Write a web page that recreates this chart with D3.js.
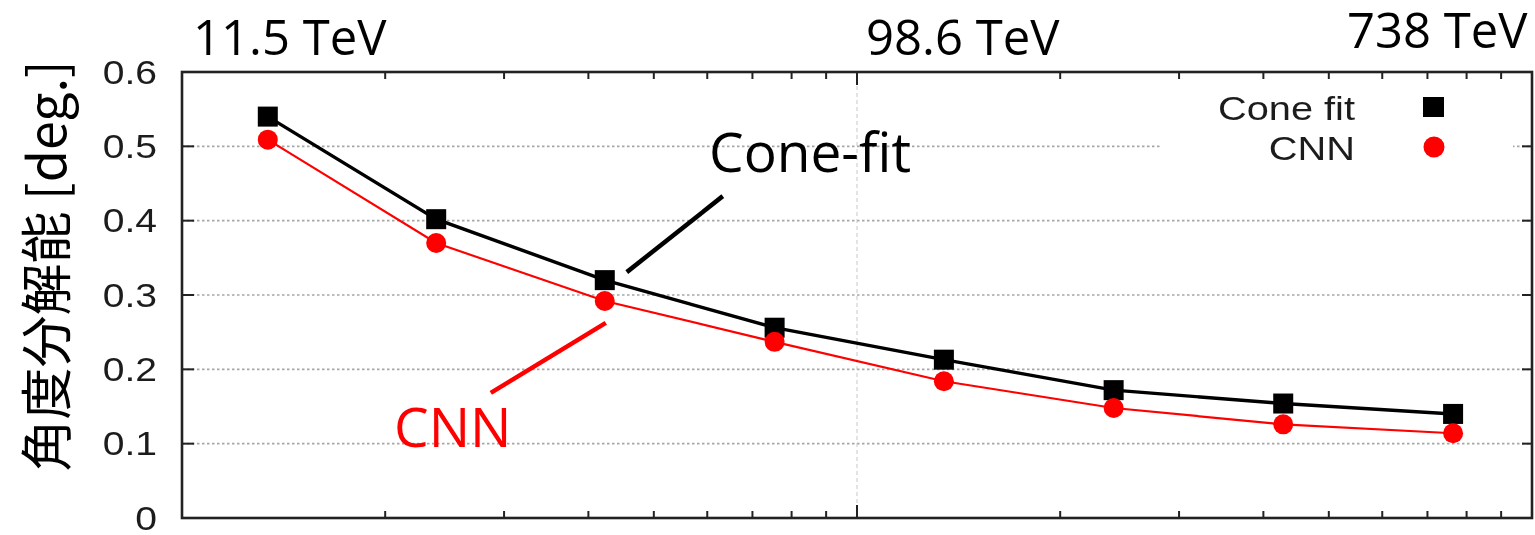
<!DOCTYPE html>
<html><head><meta charset="utf-8">
<script src="https://cdn.jsdelivr.net/npm/d3@7"></script>
<style>
html,body{margin:0;padding:0;background:#fff;}
svg{display:block;}
</style></head>
<body>
<svg id="chart" width="1535" height="535"></svg>
<script>
// Energy bin centres (TeV) and angular resolution (deg.) for each method
const energyTeV = [13.4, 23.8, 42.3, 75.5, 134.5, 240, 428, 764];
const coneFit   = [0.540, 0.402, 0.320, 0.256, 0.213, 0.172, 0.154, 0.140];
const cnn       = [0.509, 0.370, 0.292, 0.237, 0.184, 0.148, 0.126, 0.114];

const yTicks      = [0, 0.1, 0.2, 0.3, 0.4, 0.5, 0.6];
const yTickLabels = ["0", "0.1", "0.2", "0.3", "0.4", "0.5", "0.6"];
const yGrid       = [0.1, 0.2, 0.3, 0.4, 0.5];
const xDomain     = [10, 1000];
const energyLabels = ["11.5 TeV", "98.6 TeV", "738 TeV"];
const seriesNames  = ["Cone fit", "CNN"];
const calloutNames = ["Cone-fit", "CNN"];
const yTitle = "角度分解能 [deg.]";

const svg = d3.select("#chart");
const L = 182, R = 1532, T = 72, B = 518;

const x = d3.scaleLog().domain(xDomain).range([L, R]);
const y = d3.scaleLinear().domain([0, 0.6]).range([B, T]);

// soft look of the plotted panel
const defs = svg.append("defs");
defs.append("filter").attr("id", "soft")
  .append("feGaussianBlur").attr("stdDeviation", 0.5);

const plot = svg.append("g").attr("filter", "url(#soft)");

// grid
plot.append("g").selectAll("line").data(yGrid).join("line")
  .attr("x1", L).attr("x2", R)
  .attr("y1", d => y(d)).attr("y2", d => y(d))
  .attr("stroke", "#a6a6a6").attr("stroke-width", 1.6)
  .attr("stroke-dasharray", "2.5,2.5");
const majors = x.ticks().filter(v => Number.isInteger(Math.log10(v)));
plot.append("g").selectAll("line").data(majors.filter(v => v > xDomain[0] && v < xDomain[1])).join("line")
  .attr("x1", d => x(d)).attr("x2", d => x(d))
  .attr("y1", T).attr("y2", B)
  .attr("stroke", "#c8c8c8").attr("stroke-width", 1)
  .attr("stroke-dasharray", "4,3");

// x ticks (bottom and top, pointing inward)
const xt = x.ticks();
const tickLen = v => Number.isInteger(Math.log10(v)) ? 13 : 7;
plot.append("g").selectAll("line").data(xt).join("line")
  .attr("x1", d => x(d)).attr("x2", d => x(d))
  .attr("y1", B).attr("y2", d => B - tickLen(d))
  .attr("stroke", "#222").attr("stroke-width", 2);
plot.append("g").selectAll("line").data(xt).join("line")
  .attr("x1", d => x(d)).attr("x2", d => x(d))
  .attr("y1", T).attr("y2", d => T + tickLen(d))
  .attr("stroke", "#222").attr("stroke-width", 2);

// y ticks (left and right, pointing inward)
plot.append("g").selectAll("line").data(yTicks).join("line")
  .attr("x1", L).attr("x2", L + 12)
  .attr("y1", d => y(d)).attr("y2", d => y(d))
  .attr("stroke", "#222").attr("stroke-width", 2);
plot.append("g").selectAll("line").data(yTicks).join("line")
  .attr("x1", R).attr("x2", R - 10)
  .attr("y1", d => y(d)).attr("y2", d => y(d))
  .attr("stroke", "#222").attr("stroke-width", 2);

// y tick labels
plot.append("g").selectAll("text").data(yTicks).join("text")
  .attr("transform", d => `translate(157,${y(d)}) scale(1.15,1)`)
  .attr("dy", "0.34em")
  .attr("text-anchor", "end")
  .attr("font-family", "Liberation Sans, Arial, sans-serif")
  .attr("font-size", 34)
  .attr("fill", "#1e1e1e")
  .text((d, i) => yTickLabels[i]);

// legend box (opaque, hides grid behind it)
plot.append("rect").attr("x", 1160).attr("y", 84).attr("width", 353).attr("height", 82)
  .attr("fill", "#fff");

// series lines
const line = d3.line().x((d, i) => x(energyTeV[i])).y(d => y(d));
plot.append("path").datum(coneFit).attr("d", line)
  .attr("fill", "none").attr("stroke", "#000").attr("stroke-width", 3.4);
plot.append("g").selectAll("rect").data(coneFit).join("rect")
  .attr("x", (d, i) => x(energyTeV[i]) - 10).attr("y", d => y(d) - 10)
  .attr("width", 20).attr("height", 20).attr("fill", "#000");

plot.append("path").datum(cnn).attr("d", line)
  .attr("fill", "none").attr("stroke", "#ff0000").attr("stroke-width", 2.2);
plot.append("g").selectAll("circle").data(cnn).join("circle")
  .attr("cx", (d, i) => x(energyTeV[i])).attr("cy", d => y(d))
  .attr("r", 10).attr("fill", "#ff0000");

// legend entries
const legendY = [120, 160];
plot.append("g").selectAll("text").data(seriesNames).join("text")
  .attr("transform", (d, i) => `translate(1355,${legendY[i]}) scale(1.17,1)`)
  .attr("text-anchor", "end")
  .attr("font-family", "Liberation Sans, Arial, sans-serif")
  .attr("font-size", 34)
  .attr("fill", "#1e1e1e")
  .text(d => d);
plot.append("rect").attr("x", 1423).attr("y", 97).attr("width", 21).attr("height", 20).attr("fill", "#000");
plot.append("circle").attr("cx", 1434).attr("cy", 147).attr("r", 10.5).attr("fill", "#ff0000");

// frame
plot.append("rect").attr("x", L).attr("y", T).attr("width", R - L).attr("height", B - T)
  .attr("fill", "none").attr("stroke", "#222").attr("stroke-width", 2.6);

// y-axis title
svg.append("text")
  .attr("transform", "translate(43,266) rotate(-90)")
  .attr("text-anchor", "middle")
  .attr("dominant-baseline", "central")
  .attr("font-family", "Noto Sans CJK JP, sans-serif")
  .attr("font-size", 52)
  .attr("fill", "#000")
  .text(yTitle);

// energy labels above the panel
const labelPos = [[193, 55], [866, 55], [1347, 48]];
svg.append("g").selectAll("text").data(energyLabels).join("text")
  .attr("x", (d, i) => labelPos[i][0]).attr("y", (d, i) => labelPos[i][1])
  .attr("font-family", "Open Sans, sans-serif")
  .attr("font-size", 49)
  .attr("fill", "#000")
  .text(d => d);

// callouts pointing at the third energy bin
const cx3 = x(energyTeV[2]);
svg.append("line")
  .attr("x1", cx3 + 22).attr("y1", y(coneFit[2]) - 8)
  .attr("x2", cx3 + 118).attr("y2", y(coneFit[2]) - 84)
  .attr("stroke", "#000").attr("stroke-width", 4.5);
svg.append("line")
  .attr("x1", cx3 - 114).attr("y1", y(cnn[2]) + 92)
  .attr("x2", cx3 + 1).attr("y2", y(cnn[2]) + 22)
  .attr("stroke", "#ff0000").attr("stroke-width", 4.5);
svg.append("text").attr("x", 709).attr("y", 172)
  .attr("font-family", "Open Sans, sans-serif").attr("font-size", 55)
  .attr("fill", "#000").text(calloutNames[0]);
svg.append("text").attr("x", 394).attr("y", 447)
  .attr("font-family", "Open Sans, sans-serif").attr("font-size", 55)
  .attr("fill", "#ff0000").text(calloutNames[1]);
</script>
</body></html>
